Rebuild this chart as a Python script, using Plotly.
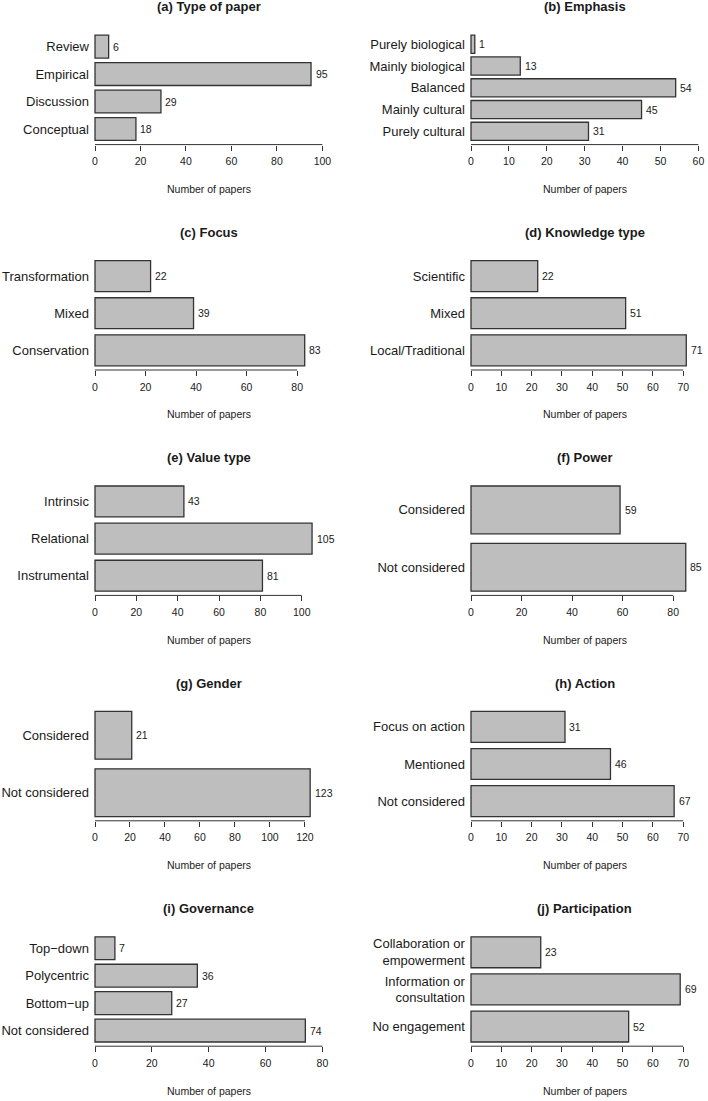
import plotly.graph_objects as go

# ---------------- data (top-to-bottom order as displayed) ----------------
titles = ["(a) Type of paper", "(b) Emphasis", "(c) Focus", "(d) Knowledge type",
          "(e) Value type", "(f) Power", "(g) Gender", "(h) Action",
          "(i) Governance", "(j) Participation"]

cat_a = ["Review", "Empirical", "Discussion", "Conceptual"]
val_a = [6, 95, 29, 18]
cat_b = ["Purely biological", "Mainly biological", "Balanced", "Mainly cultural", "Purely cultural"]
val_b = [1, 13, 54, 45, 31]
cat_c = ["Transformation", "Mixed", "Conservation"]
val_c = [22, 39, 83]
cat_d = ["Scientific", "Mixed", "Local/Traditional"]
val_d = [22, 51, 71]
cat_e = ["Intrinsic", "Relational", "Instrumental"]
val_e = [43, 105, 81]
cat_f = ["Considered", "Not considered"]
val_f = [59, 85]
cat_g = ["Considered", "Not considered"]
val_g = [21, 123]
cat_h = ["Focus on action", "Mentioned", "Not considered"]
val_h = [31, 46, 67]
cat_i = ["Top\u2212down", "Polycentric", "Bottom\u2212up", "Not considered"]
val_i = [7, 36, 27, 74]
cat_j = ["Collaboration or<br>empowerment", "Information or<br>consultation", "No engagement"]
val_j = [23, 69, 52]

xlims = [100, 60, 90, 75, 110, 90, 130, 75, 80, 75]
ticks_a = [0, 20, 40, 60, 80, 100]
ticks_b = [0, 10, 20, 30, 40, 50, 60]
ticks_c = [0, 20, 40, 60, 80]
ticks_d = [0, 10, 20, 30, 40, 50, 60, 70]
ticks_e = [0, 20, 40, 60, 80, 100]
ticks_f = [0, 20, 40, 60, 80]
ticks_g = [0, 20, 40, 60, 80, 100, 120]
ticks_h = [0, 10, 20, 30, 40, 50, 60, 70]
ticks_i = [0, 20, 40, 60, 80]
ticks_j = [0, 10, 20, 30, 40, 50, 60, 70]
x_label = "Number of papers"

cats = [cat_a, cat_b, cat_c, cat_d, cat_e, cat_f, cat_g, cat_h, cat_i, cat_j]
vals = [val_a, val_b, val_c, val_d, val_e, val_f, val_g, val_h, val_i, val_j]
ticks = [ticks_a, ticks_b, ticks_c, ticks_d, ticks_e, ticks_f, ticks_g, ticks_h, ticks_i, ticks_j]

# ---------------- layout ----------------
W, H = 708, 1101
FONT = "Liberation Sans, Arial, Helvetica, sans-serif"
INK = "#1a1a1a"
EDGE = "#333333"

fig = go.Figure()
layout = dict(
    width=W, height=H, margin=dict(l=0, r=0, t=0, b=0),
    paper_bgcolor="white", plot_bgcolor="white",
    showlegend=False, font=dict(family=FONT, color=INK),
)
shapes, annotations = [], []

for k in range(10):
    row, col = k // 2, k % 2
    px0 = 95 + 376 * col
    X = xlims[k]
    s = 227.4 / X                    # pixels per unit
    left_px = px0 - 0.04 * X * s
    right_px = min(px0 + 1.04 * X * s, W)
    top_px = 31 + 225.4 * row
    bot_px = top_px + 113.6
    n = len(cats[k])
    ypos = list(range(n))[::-1]
    lo = -0.04 * X
    hi = lo + (right_px - left_px) / s
    ax = "" if k == 0 else str(k + 1)

    fig.add_trace(go.Bar(
        x=vals[k], y=ypos, orientation="h", width=1 / 1.2,
        marker=dict(color="#BEBEBE", line=dict(color=EDGE, width=1.3)),
        xaxis="x" + ax, yaxis="y" + ax, hoverinfo="skip",
    ))
    # value labels to the right of each bar
    for v, yp in zip(vals[k], ypos):
        annotations.append(dict(text=str(v), xref="x" + ax, yref="y" + ax,
                                x=v, y=yp, xanchor="left", yanchor="middle",
                                xshift=2.5, showarrow=False,
                                font=dict(size=10.5, color=INK)))

    ext = 0.04 * (n - 1 / 6)
    layout["xaxis" + ax] = dict(
        domain=[left_px / W, right_px / W], anchor="y" + ax,
        range=[lo, hi],
        tickvals=ticks[k], ticks="outside", ticklen=5, tickwidth=1,
        tickcolor=EDGE, tickfont=dict(size=10.5, color=INK),
        ticklabelstandoff=2,
        showline=False, showgrid=False, zeroline=False, fixedrange=True,
    )
    layout["yaxis" + ax] = dict(
        domain=[1 - bot_px / H, 1 - top_px / H], anchor="x" + ax,
        range=[-0.5 + 1 / 12 - ext, n - 0.5 - 1 / 12 + ext],
        tickvals=list(range(n)), ticktext=cats[k][::-1],
        ticks="", tickfont=dict(size=13, color=INK),
        ticklabelstandoff=-4,
        showline=False, showgrid=False, zeroline=False, fixedrange=True,
    )
    shapes.append(dict(type="line", xref="x" + ax, yref="y" + ax + " domain",
                       x0=0, x1=ticks[k][-1], y0=0, y1=0,
                       line=dict(color=EDGE, width=1)))
    cx = (px0 + 113.7) / W
    annotations.append(dict(text="<b>" + titles[k] + "</b>", xref="paper", yref="paper",
                            x=cx, y=1 - (top_px - 24) / H, xanchor="center", yanchor="middle",
                            showarrow=False, font=dict(size=13, color=INK)))
    annotations.append(dict(text=x_label, xref="paper", yref="paper",
                            x=cx, y=1 - (bot_px + 44.3) / H, xanchor="center", yanchor="middle",
                            showarrow=False, font=dict(size=10.5, color=INK)))

layout["shapes"] = shapes
layout["annotations"] = annotations
fig.update_layout(**layout)
fig.write_html("out.html",
               config={"displayModeBar": False, "staticPlot": True},
               post_script="document.body.style.margin='0';document.body.style.overflow='hidden';")
